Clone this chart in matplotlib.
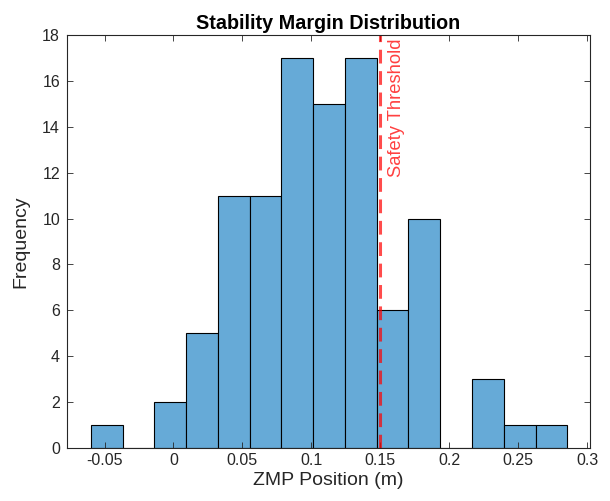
import matplotlib
matplotlib.use("Agg")
import matplotlib.pyplot as plt
import numpy as np

plt.rcParams['font.family'] = ['Liberation Sans', 'DejaVu Sans']

# Histogram data
bin_start = -0.0599
bin_width = 0.02303
counts = [1, 0, 2, 5, 11, 11, 17, 15, 17, 6, 10, 0, 3, 1, 1]
threshold = 0.15
x_ticks = [-0.05, 0, 0.05, 0.1, 0.15, 0.2, 0.25, 0.3]
x_tick_labels = ["-0.05", "0", "0.05", "0.1", "0.15", "0.2", "0.25", "0.3"]
y_ticks = [0, 2, 4, 6, 8, 10, 12, 14, 16, 18]

edges = bin_start + bin_width * np.arange(len(counts) + 1)
centers = (edges[:-1] + edges[1:]) / 2

fig = plt.figure(figsize=(6.10, 5.01), dpi=100)
ax = fig.add_axes([67/610, 1 - 448/501, (590-67)/610, (448-35)/501])

ax.hist(centers, bins=edges, weights=counts, color=(0.4, 0.668, 0.845),
        edgecolor='black', linewidth=0.8)

ax.axvline(threshold, color='red', alpha=0.7, linestyle=(0, (4.5, 2.5)), linewidth=2.2)
ax.text(threshold + 0.0055, 17.85, "Safety Threshold", rotation=90, color='red', alpha=0.75,
        ha='left', va='top', fontsize=13.2)

ax.set_xlim(-0.0772, 0.302)
ax.set_ylim(0, 18)
ax.set_xticks(x_ticks)
ax.set_xticklabels(x_tick_labels)
ax.set_yticks(y_ticks)

ax.tick_params(direction='in', top=True, right=True, labelsize=11.5, colors='#262626',
               length=4, width=0.6)
ax.tick_params(axis='y', pad=5)
for s in ax.spines.values():
    s.set_color('#262626')
    s.set_linewidth(0.8)

ax.set_xlabel("ZMP Position (m)", fontsize=14, color='#262626', labelpad=3)
ax.set_ylabel("Frequency", fontsize=14, color='#262626', labelpad=9)
ax.set_title("Stability Margin Distribution", fontsize=14.2, fontweight='bold', pad=4)

fig.savefig("out.png", dpi=100)
